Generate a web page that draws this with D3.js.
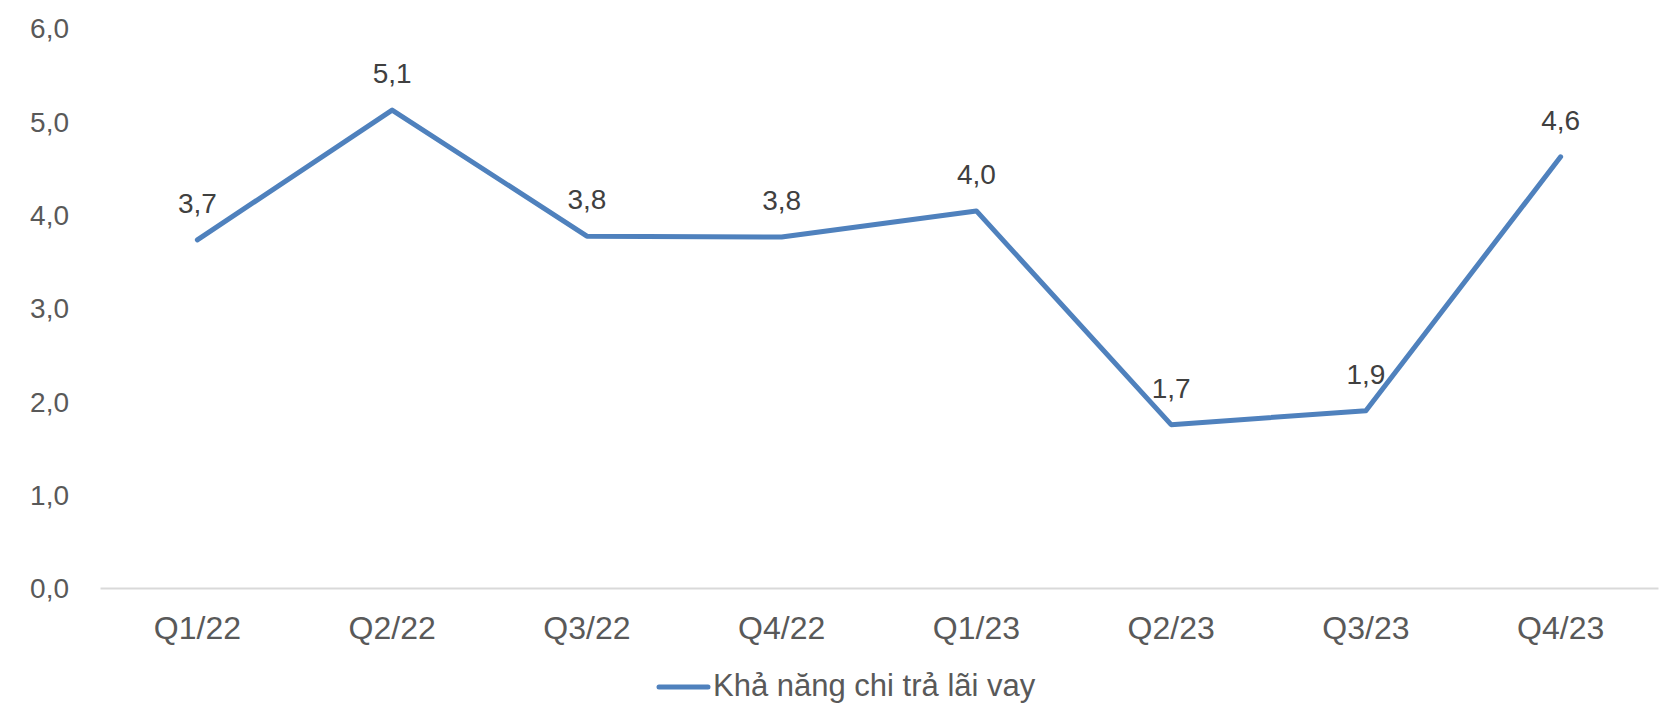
<!DOCTYPE html>
<html><head><meta charset="utf-8">
<script src="https://cdn.jsdelivr.net/npm/d3@7"></script>
<style>html,body{margin:0;padding:0;background:#fff;}svg{display:block;}</style>
</head><body>
<svg id="chart" width="1664" height="704"></svg>
<script>
const categories = ["Q1/22","Q2/22","Q3/22","Q4/22","Q1/23","Q2/23","Q3/23","Q4/23"];
const values = [3.73, 5.12, 3.77, 3.76, 4.04, 1.75, 1.90, 4.62];
const valueLabels = ["3,7","5,1","3,8","3,8","4,0","1,7","1,9","4,6"];
const yTicks = [0,1,2,3,4,5,6];
const seriesName = "Khả năng chi trả lãi vay";

(function () {
const svg = d3.select("#chart");
const mLeft = 100, mRight = 1658, mTop = 28, mBottom = 588;
const font = "'Liberation Sans', Arial, sans-serif";
const lineColor = "#4f81bd";

const x = d3.scaleBand().domain(categories).range([mLeft, mRight]);
const y = d3.scaleLinear().domain([0, 6]).range([mBottom, mTop]);
const fmt = v => d3.format(".1f")(v).replace(".", ",");

// Y axis labels
const yAxis = d3.axisLeft(y).tickValues(yTicks).tickFormat(fmt).tickSize(0).tickPadding(0);
const gy = svg.append("g").attr("transform", `translate(69,0)`).call(yAxis);
gy.select(".domain").remove();
gy.selectAll("text").attr("font-family", font).attr("font-size", 28).attr("fill", "#595959")
  .attr("dy", "0.35em");

// X axis baseline and labels
const xAxis = d3.axisBottom(x).tickSize(0).tickPadding(0);
const gx = svg.append("g").attr("transform", `translate(0,${mBottom})`).call(xAxis);
gx.select(".domain").attr("stroke", "#d9d9d9").attr("stroke-width", 2);
gx.selectAll("text").attr("font-family", font).attr("font-size", 32).attr("fill", "#595959")
  .attr("y", 51).attr("dy", 0);

// Line
const cx = c => x(c) + x.bandwidth() / 2;
const line = d3.line().x((d, i) => cx(categories[i])).y(d => y(d));
svg.append("path").datum(values).attr("d", line)
  .attr("fill", "none").attr("stroke", lineColor).attr("stroke-width", 5)
  .attr("stroke-linecap", "round").attr("stroke-linejoin", "round");

// Data labels
svg.append("g").selectAll("text").data(values).join("text")
  .attr("x", (d, i) => cx(categories[i]))
  .attr("y", d => y(d) - 27)
  .attr("text-anchor", "middle")
  .attr("font-family", font).attr("font-size", 28).attr("fill", "#404040")
  .text((d, i) => valueLabels[i]);

// Legend
const lg = svg.append("g");
lg.append("line").attr("x1", 659).attr("x2", 708).attr("y1", 687).attr("y2", 687)
  .attr("stroke", lineColor).attr("stroke-width", 5).attr("stroke-linecap", "round");
lg.append("text").attr("x", 713).attr("y", 696)
  .attr("font-family", font).attr("font-size", 31).attr("fill", "#595959").text(seriesName);
})();
</script>
</body></html>
